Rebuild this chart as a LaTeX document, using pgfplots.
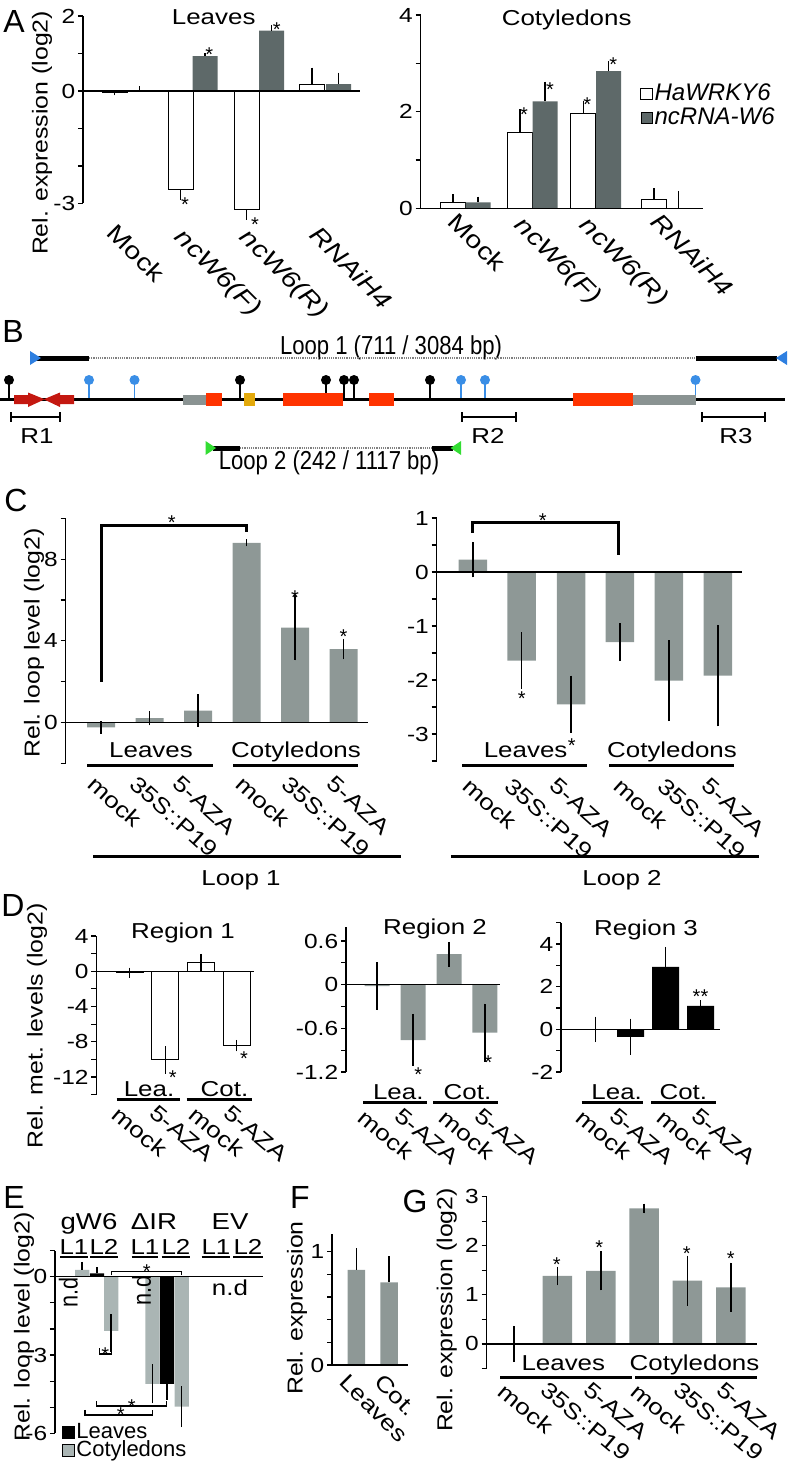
\documentclass[border=0pt]{standalone}
\usepackage{fontspec}
\setmainfont{Liberation Sans}
\setsansfont{Liberation Sans}
\usepackage{pgfplots}
\pgfplotsset{compat=1.18}
\definecolor{barg}{HTML}{8E9896}
\definecolor{darkg}{HTML}{5E6969}
\definecolor{lightg}{HTML}{AAB5B4}
\definecolor{genered}{HTML}{FF3300}
\definecolor{arrred}{HTML}{C41810}
\definecolor{geneyel}{HTML}{E3A90B}
\definecolor{genegrey}{HTML}{8A9392}
\definecolor{lollib}{HTML}{3A8EE6}
\definecolor{tribl}{HTML}{2E7FE0}
\definecolor{trigr}{HTML}{33DD33}
\newcommand\fLab{\fontsize{10.8}{12}\selectfont}
\newcommand\fRot{\fontsize{11}{12}\selectfont}
\newcommand\fRotA{\fontsize{12}{13}\selectfont}
\newcommand\fTick{\fontsize{10.2}{12}\selectfont}
\newcommand\fPan{\fontsize{16}{18}\selectfont}
\newcommand\fAst{\fontsize{10}{10}\selectfont}
\tikzset{
 lab/.style={font=\fLab, inner sep=0pt, xscale=1.2},
 labb/.style={font=\fLab, inner sep=0pt, anchor=base, xscale=1.2},
 rl/.style={font=\fRot, inner sep=0pt, anchor=north west, rotate=-#1, xscale=1.2},
 rla/.style={font=\fRotA, inner sep=0pt, anchor=north west, rotate=-45, xscale=1.2},
 yl/.style={font=\fLab, inner sep=0pt, rotate=90, xscale=1.15},
 pl/.style={font=\fPan, inner sep=0pt},
 ast/.style={font=\fAst, inner sep=0pt, yshift=-2.2pt},
 ul/.style={line width=1.5pt},
}
\pgfplotsset{
 panel/.style={scale only axis, anchor=south west, axis y line=left, axis x line=none,
   axis line style={-, line width=0.7pt}, tick style={black, line width=0.6pt},
   tick align=outside, major tick length=2.5pt, minor tick length=2.5pt, clip=false,
   /pgf/number format/assume math mode=true,
   yticklabel style={font=\fTick, inner sep=1pt, xscale=1.2}},
 bb/.style={ybar, bar shift=0pt, bar width=#1, error bars/y dir=both, error bars/y explicit,
   error bars/error mark=none, error bars/error bar style={line width=0.75pt, black}},
}
\begin{document}
\begin{tikzpicture}
\useasboundingbox (0pt,0pt) rectangle (398pt,-732.5pt);

% ================= A: Leaves
\begin{axis}[panel, at={(41.5pt,-101.75pt)}, width=138.5pt, height=93.75pt,
  xmin=83, xmax=360, ymin=-3, ymax=2, ytick={-3,0,2}, minor ytick={-2,-1,1}]
\addplot[bb=25, fill=white, draw=black, line width=0.5pt] coordinates {
 (114.5,-0.05) -= (0,0.07) (180.5,-2.64) -= (0,0.26) (246.5,-3.16) -= (0,0.28) (312,0.18) += (0,0.44)};
\addplot[bb=25, fill=darkg, draw=none] coordinates {
 (139.5,0) += (0,0.13) (205,0.93) += (0,0.07) (271.5,1.61) += (0,0.15) (338.5,0.18) += (0,0.31)};
\draw[line width=0.7pt] (axis cs:83,0) -- (axis cs:360,0);
\node[ast] at (axis cs:185,-2.9) {*};
\node[ast] at (axis cs:209.3,1.09) {*};
\node[ast] at (axis cs:255,-3.44) {*};
\node[ast] at (axis cs:276.7,1.76) {*};
\end{axis}

% ================= A: Cotyledons
\begin{axis}[panel, at={(210.35pt,-104.15pt)}, width=141pt, height=96.65pt,
  xmin=420.7, xmax=702.7, ymin=0, ymax=4, ytick={0,2,4}, minor ytick={1,3},
  legend style={at={(axis cs:640,2.62)}, anchor=north west, draw=none, fill=none,
    inner sep=0pt, row sep=0pt, font=\fontsize{12}{13}\selectfont\itshape,
    nodes={inner sep=1pt}, /tikz/every even column/.append style={column sep=2pt}},
  legend cell align=left,
  legend image code/.code={\draw[#1] (0pt,-2.8pt) rectangle (5.6pt,2.8pt);}]
\addplot[bb=25, fill=white, draw=black, line width=0.5pt] coordinates {
 (453.2,0.12) += (0,0.17) (519.8,1.57) += (0,0.48) (583.4,1.97) += (0,0.24) (653.8,0.19) += (0,0.22)};
\addlegendentry{HaWRKY6}
\addplot[bb=25, fill=darkg, draw=none] coordinates {
 (478.2,0.12) += (0,0.12) (545,2.21) += (0,0.41) (608.5,2.84) += (0,0.20) (678.3,0) += (0,0.36)};
\addlegendentry{ncRNA-W6}
\draw[line width=0.7pt] (axis cs:420.7,0) -- (axis cs:702.7,0);
\node[ast] at (axis cs:524,2.03) {*};
\node[ast] at (axis cs:550,2.55) {*};
\node[ast] at (axis cs:587.3,2.24) {*};
\node[ast] at (axis cs:613.3,3.07) {*};
\end{axis}

% ================= C: Loop 1
\begin{axis}[panel, at={(32.85pt,-381.55pt)}, width=151.3pt, height=122.4pt,
  xmin=65.7, xmax=368.3, ymin=-2, ymax=10, ytick={0,4,8}, minor ytick={-2,2,6,10}]
\addplot[bb=28, fill=barg, draw=none] coordinates {
 (101,-0.25) +- (0,0.3) (149.5,0.2) +- (0,0.35) (198,0.57) +- (0,0.8)
 (246.5,8.8) +- (0,0.18) (295,4.64) +- (0,1.6) (343.5,3.59) +- (0,0.5)};
\draw[line width=0.7pt] (axis cs:65.7,0) -- (axis cs:368.3,0);
\draw[line width=1.5pt] (axis cs:101,1.99) -- (axis cs:101,9.67) -- (axis cs:246.5,9.67) -- (axis cs:246.5,9.34);
\node[ast] at (axis cs:171.7,9.98) {*};
\node[ast] at (axis cs:295,6.35) {*};
\node[ast] at (axis cs:343.5,4.44) {*};
\end{axis}

% ================= C: Loop 2
\begin{axis}[panel, at={(218.35pt,-380.5pt)}, width=152.5pt, height=121.5pt,
  xmin=436.7, xmax=741.7, ymin=-3.5, ymax=1, ytick={-3,-2,-1,0,1}, minor ytick={-3.5,-2.5,-1.5,-0.5,0.5}]
\addplot[bb=28.5, fill=barg, draw=none] coordinates {
 (472.8,0.23) +- (0,0.33) (521.7,-1.64) +- (0,0.52) (571,-2.45) +- (0,0.53)
 (619.8,-1.30) +- (0,0.35) (668.8,-2.01) +- (0,0.75) (717.8,-1.92) +- (0,0.94)};
\draw[line width=0.7pt] (axis cs:436.7,0) -- (axis cs:741.7,0);
\draw[line width=1.5pt] (axis cs:472.7,0.73) -- (axis cs:472.7,0.91) -- (axis cs:618.3,0.91) -- (axis cs:618.3,0.31);
\node[ast] at (axis cs:542.7,1.03) {*};
\node[ast] at (axis cs:521.7,-2.27) {*};
\node[ast] at (axis cs:571.7,-3.13) {*};
\end{axis}

% ================= D: Region 1
\begin{axis}[panel, at={(48.2pt,-547.3pt)}, width=78.7pt, height=79.3pt,
  xmin=96.4, xmax=253.8, ymin=-14, ymax=4, ytick={4,0,-4,-8,-12}, minor ytick={2,-2,-6,-10,-14}]
\addplot[bb=27, fill=white, draw=black, line width=0.5pt] coordinates {
 (129.5,-0.15) +- (0,0.56) (165.3,-10.07) +- (0,1.55) (201,0.98) +- (0,1.0) (236.7,-8.44) +- (0,0.66)};
\draw[line width=0.7pt] (axis cs:96.4,0) -- (axis cs:253.8,0);
\node[ast] at (axis cs:172.7,-11.58) {*};
\node[ast] at (axis cs:244,-9.39) {*};
\end{axis}

% ================= D: Region 2
\begin{axis}[panel, at={(173pt,-536pt)}, width=77pt, height=72.75pt,
  xmin=346, xmax=500, ymin=-1.2, ymax=0.8, ytick={0.6,0,-0.6,-1.2}, minor ytick={0.3,-0.3,-0.9},
  yticklabel style={/pgf/number format/fixed}]
\addplot[bb=25, fill=barg, draw=none] coordinates {
 (377,-0.02) +- (0,0.33) (413,-0.76) +- (0,0.36) (449.2,0.42) +- (0,0.17) (484.8,-0.66) +- (0,0.4)};
\draw[line width=0.7pt] (axis cs:346,0) -- (axis cs:500,0);
\node[ast] at (axis cs:418.3,-1.17) {*};
\node[ast] at (axis cs:488.3,-1.01) {*};
\end{axis}

% ================= D: Region 3
\begin{axis}[panel, at={(280.5pt,-536pt)}, width=79.5pt, height=74.65pt,
  xmin=561, xmax=720, ymin=-2, ymax=5, ytick={4,2,0,-2}, minor ytick={5,3,1,-1}]
\addplot[bb=27, fill=black, draw=none] coordinates {
 (595.7,0) +- (0,0.6) (630.7,-0.35) +- (0,0.85) (665.7,2.93) +- (0,0.94) (700.5,1.1) +- (0,0.27)};
\draw[line width=0.7pt] (axis cs:561,0) -- (axis cs:720,0);
\node[ast] at (axis cs:700.5,1.76) {**};
\end{axis}

% ================= E
\begin{axis}[panel, at={(27.5pt,-716.65pt)}, width=104.15pt, height=91.35pt,
  xmin=55, xmax=263.3, ymin=-6, ymax=1, ytick={0,-3,-6}, minor ytick={1,-1,-2,-4,-5},
  legend style={at={(axis cs:62,-5.55)}, anchor=north west, draw=none, fill=none,
    inner sep=0pt, row sep=-1.5pt, font=\fontsize{11}{12}\selectfont,
    nodes={inner sep=0.6pt}},
  legend cell align=left,
  legend image code/.code={\draw[#1] (0pt,-3pt) rectangle (6pt,3pt);}]
\addplot[bb=14.3, fill=black, draw=none] coordinates {
 (97,0.13) += (0,0.24) (167,-4.11) -= (0,0.6)};
\addlegendentry{Leaves}
\addplot[bb=14.3, fill=lightg, draw=none] coordinates {
 (82.2,0.26) += (0,0.31) (111.2,-2.07) += (0,0.63) -= (0,0.83)
 (152.5,-4.11) += (0,0.76) -= (0,0.74) (181.7,-4.98) +- (0,0.78)};
\addlegendentry{Cotyledons}
\draw[line width=0.7pt] (axis cs:55,0) -- (axis cs:263.3,0);
\draw[line width=0.6pt] (axis cs:111.7,0.05) -- (axis cs:111.7,0.19) -- (axis cs:181.7,0.19) -- (axis cs:181.7,0.05);
\node[ast] at (axis cs:146.7,0.38) {*};
\draw[line width=0.6pt] (axis cs:99.3,-2.75) -- (axis cs:99.3,-2.96) -- (axis cs:111.7,-2.96) -- (axis cs:111.7,-2.75);
\node[ast] at (axis cs:105.3,-2.8) {*};
\draw[line width=0.6pt] (axis cs:96.7,-4.77) -- (axis cs:96.7,-4.95) -- (axis cs:166.7,-4.95) -- (axis cs:166.7,-4.77);
\node[ast] at (axis cs:131.7,-4.79) {*};
\draw[line width=0.6pt] (axis cs:85,-5.1) -- (axis cs:85,-5.3) -- (axis cs:152.7,-5.3) -- (axis cs:152.7,-5.1);
\node[ast] at (axis cs:120.7,-5.13) {*};
\end{axis}

% ================= F
\begin{axis}[panel, at={(166pt,-682.5pt)}, width=38pt, height=65.7pt,
  xmin=332, xmax=408, ymin=0, ymax=1.16, ytick={0,1}, minor ytick={0.2,0.4,0.6,0.8}]
\addplot[bb=17.5, fill=barg, draw=none] coordinates {
 (356.3,0.84) += (0,0.19) (389,0.73) += (0,0.23)};
\draw[line width=0.7pt] (axis cs:332,0) -- (axis cs:408,0);
\end{axis}

% ================= G
\begin{axis}[panel, at={(243.35pt,-684.25pt)}, width=135pt, height=85.9pt,
  xmin=486.7, xmax=756.7, ymin=-0.5, ymax=3, ytick={0,1,2,3}, minor ytick={-0.5,0.5,1.5,2.5}]
\addplot[bb=29.5, fill=barg, draw=none] coordinates {
 (513.9,0) +- (0,0.37) (557.3,1.385) +- (0,0.19) (600.8,1.49) +- (0,0.4)
 (644.2,2.76) +- (0,0.1) (687.3,1.29) +- (0,0.51) (730.8,1.155) +- (0,0.5)};
\draw[line width=0.7pt] (axis cs:486.7,0) -- (axis cs:756.7,0);
\node[ast] at (axis cs:556.7,1.71) {*};
\node[ast] at (axis cs:599.3,2.05) {*};
\node[ast] at (axis cs:686.7,1.93) {*};
\node[ast] at (axis cs:730.7,1.83) {*};
\end{axis}

% ================= text, labels and schematic (pixel coordinates)
\begin{scope}[x=0.5pt,y=-0.5pt]
% panel letters
\node[pl] at (14,21) {A};
\node[pl] at (13,331) {B};
\node[pl] at (16,500) {C};
\node[pl] at (13,905) {D};
\node[pl] at (14,1197) {E};
\node[pl] at (300,1197) {F};
\node[pl] at (415,1201) {G};

% ---- A
\node[labb] at (213.7,25) {Leaves};
\node[labb] at (566.7,25.5) {Cotyledons};
\node[yl] at (42,133) {Rel. expression (log2)};
\node[rla] at (118,222) {Mock};
\node[rla] at (186,226) {\itshape ncW6(F)};
\node[rla] at (251,226) {\itshape ncW6(R)};
\node[rla] at (321,224) {\itshape RNAiH4};
\node[rla] at (459,211) {Mock};
\node[rla] at (526,214) {\itshape ncW6(F)};
\node[rla] at (591,214) {\itshape ncW6(R)};
\node[rla] at (662,211) {\itshape RNAiH4};

% ---- B
\node[font=\fontsize{13}{14}\selectfont, inner sep=0pt, anchor=base, xscale=0.85] at (391,355) {Loop 1 (711 / 3084 bp)};
\draw[line width=2.5pt] (31.5,358) -- (89,358);
\draw[line width=0.7pt, gray, dash pattern=on 0.6pt off 0.5pt] (89,358) -- (695.5,358);
\draw[line width=2.5pt] (695.5,358) -- (777,358);
\fill[tribl] (30,351) -- (30,365) -- (41,358) -- cycle;
\fill[tribl] (787,351) -- (787,365) -- (776,358) -- cycle;
\foreach \x in {9,240,326,344,354,430} {\draw[line width=0.8pt] (\x,380) -- (\x,399); \fill (\x,380) circle[radius=2.5pt];}
\foreach \x in {89,134.5,461,485,695.5} {\draw[lollib, line width=0.8pt] (\x,380) -- (\x,399); \fill[lollib] (\x,380) circle[radius=2.5pt];}
\draw[line width=1.5pt] (0,399.3) -- (785,399.3);
\fill[arrred] (14,395) -- (28,395) -- (28,392.5) -- (44.7,399.3) -- (28,407) -- (28,404) -- (14,404) -- cycle;
\fill[arrred] (74,395) -- (60,395) -- (60,392.5) -- (43.7,399.3) -- (60,407) -- (60,404) -- (74,404) -- cycle;
\fill[genegrey] (183,395) rectangle (205.6,405);
\fill[genered] (205.6,392.6) rectangle (222.3,406);
\fill[geneyel] (243.7,392.6) rectangle (254.8,406);
\fill[genered] (282.7,392.6) rectangle (342.6,406);
\fill[genered] (368.5,392.6) rectangle (394,406);
\fill[genered] (572.6,392.6) rectangle (632.5,406);
\fill[genegrey] (632.5,395) rectangle (695.5,405);
\draw[line width=1pt] (11,412) -- (11,422) (11,417) -- (60,417) (60,412) -- (60,422);
\draw[line width=1pt] (461.7,412) -- (461.7,422) (461.7,417) -- (515.7,417) (515.7,412) -- (515.7,422);
\draw[line width=1pt] (701.7,412) -- (701.7,422) (701.7,417) -- (765,417) (765,412) -- (765,422);
\node[labb] at (37,443) {R1};
\node[labb] at (488,443) {R2};
\node[labb] at (736,443) {R3};
\draw[line width=2.5pt] (213,448) -- (240,448);
\draw[line width=0.7pt, gray, dash pattern=on 0.6pt off 0.5pt] (240,448) -- (431.7,448);
\draw[line width=2.5pt] (431.7,448) -- (453.3,448);
\fill[trigr] (205.5,441) -- (205.5,455) -- (216,448) -- cycle;
\fill[trigr] (461,441) -- (461,455) -- (450.5,448) -- cycle;
\node[font=\fontsize{13}{14}\selectfont, inner sep=0pt, anchor=base, xscale=0.85] at (329,469) {Loop 2 (242 / 1117 bp)};

% ---- C
\node[yl] at (34,643) {Rel. loop level (log2)};
\node[labb] at (151,757) {Leaves};
\node[labb] at (296,757) {Cotyledons};
\node[labb] at (525.6,757) {Leaves};
\node[labb] at (672,757) {Cotyledons};
\draw[ul] (87.3,765.7) -- (213.3,765.7);
\draw[ul] (233.3,765.7) -- (358.3,765.7);
\draw[ul] (462,765.7) -- (587.3,765.7);
\draw[ul] (609,765.7) -- (733.5,765.7);
\node[rl=42] at (97,774) {mock};
\node[rl=42] at (139,774) {35S::P19};
\node[rl=42] at (182,774) {5-AZA};
\node[rl=42] at (245,774) {mock};
\node[rl=42] at (291,774) {35S::P19};
\node[rl=42] at (336,774) {5-AZA};
\node[rl=42] at (472,776) {mock};
\node[rl=42] at (514,776) {35S::P19};
\node[rl=42] at (559,776) {5-AZA};
\node[rl=42] at (623,776) {mock};
\node[rl=42] at (667,776) {35S::P19};
\node[rl=42] at (711,776) {5-AZA};
\draw[ul] (93,856.7) -- (401,856.7);
\draw[ul] (450.8,856.7) -- (759,856.7);
\node[labb] at (241,885) {Loop 1};
\node[labb] at (622,885) {Loop 2};

% ---- D
\node[yl] at (37,1026) {Rel. met. levels (log2)};
\node[labb] at (183,938.5) {Region 1};
\node[labb] at (435,934) {Region 2};
\node[labb] at (646,935.5) {Region 3};
\node[labb] at (149,1096.5) {Lea.};
\node[labb] at (224.5,1096.5) {Cot.};
\draw[ul] (116.7,1099.5) -- (180,1099.5);
\draw[ul] (186.7,1099.5) -- (251.7,1099.5);
\node[labb] at (398.3,1099) {Lea.};
\node[labb] at (467.5,1099) {Cot.};
\draw[ul] (363.3,1102) -- (426.7,1102);
\draw[ul] (433.3,1102) -- (498.3,1102);
\node[labb] at (616.7,1099) {Lea.};
\node[labb] at (683.3,1099) {Cot.};
\draw[ul] (581.7,1102) -- (643.3,1102);
\draw[ul] (651,1102) -- (716,1102);
\node[rl=40] at (121,1105) {mock};
\node[rl=40] at (158,1103) {5-AZA};
\node[rl=40] at (198,1105) {mock};
\node[rl=40] at (232,1103) {5-AZA};
\node[rl=40] at (367,1108) {mock};
\node[rl=40] at (403,1106) {5-AZA};
\node[rl=40] at (448,1108) {mock};
\node[rl=40] at (483,1106) {5-AZA};
\node[rl=40] at (585,1108) {mock};
\node[rl=40] at (618,1106) {5-AZA};
\node[rl=40] at (666,1108) {mock};
\node[rl=40] at (700,1106) {5-AZA};

% ---- E
\node[yl] at (24,1327) {Rel. loop level (log2)};
\node[font=\fontsize{11.5}{13}\selectfont, inner sep=0pt, anchor=base, xscale=1.2] at (89,1229) {gW6};
\node[font=\fontsize{11.5}{13}\selectfont, inner sep=0pt, anchor=base, xscale=1.2] at (154,1229) {ΔIR};
\node[font=\fontsize{11.5}{13}\selectfont, inner sep=0pt, anchor=base, xscale=1.2] at (230,1229) {EV};
\foreach \x/\t in {74/L1,104/L2,145/L1,176/L2,216/L1,248/L2} {\node[labb] at (\x,1254) {\t};}
\draw[line width=1pt] (60,1257) -- (88,1257) (90,1257) -- (118,1257) (131.7,1257) -- (158,1257)
  (161.7,1257) -- (190,1257) (201.7,1257) -- (230,1257) (233,1257) -- (263,1257);
\node[lab, rotate=90] at (68.3,1292) {n.d};
\node[lab, rotate=90] at (141.7,1290) {n.d};
\node[labb] at (230,1295) {n.d};

% ---- F, G
\node[yl] at (297,1308) {Rel. expression};
\node[rl=45] at (349,1372) {Leaves};
\node[rl=45] at (384,1372) {Cot.};
\node[yl] at (446.7,1310) {Rel. expression (log2)};
\node[labb] at (563.3,1370) {Leaves};
\node[labb] at (694.5,1370) {Cotyledons};
\draw[ul] (500,1377) -- (631.7,1377);
\draw[ul] (635,1377) -- (756.7,1377);
\node[rl=40] at (507,1382) {mock};
\node[rl=40] at (549,1380) {35S::P19};
\node[rl=40] at (592,1380) {5-AZA};
\node[rl=40] at (640,1382) {mock};
\node[rl=40] at (682,1380) {35S::P19};
\node[rl=40] at (725,1380) {5-AZA};
\end{scope}
\end{tikzpicture}
\end{document}
